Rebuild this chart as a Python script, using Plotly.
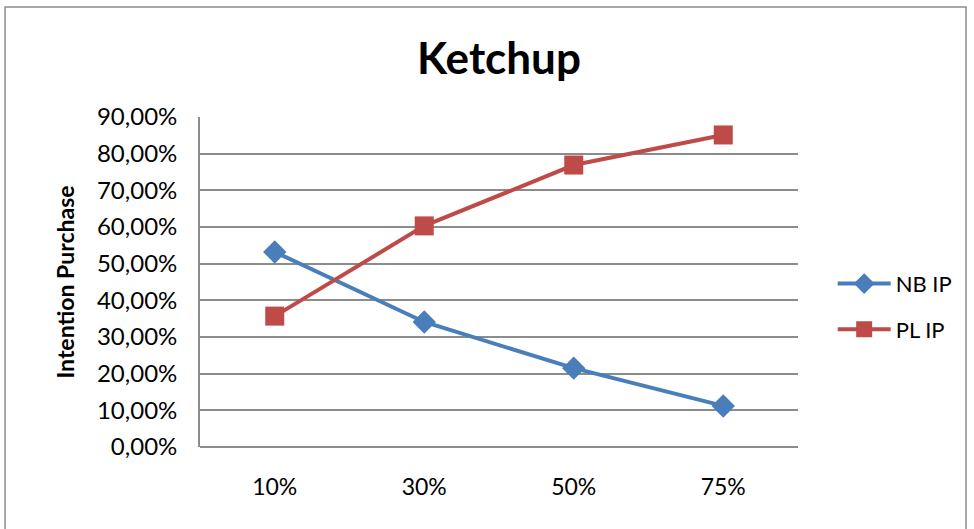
import plotly.graph_objects as go

categories = ["10%", "30%", "50%", "75%"]
nb_ip = [0.532, 0.341, 0.215, 0.112]
pl_ip = [0.357, 0.603, 0.769, 0.851]
series_names = ["NB IP", "PL IP"]

FONT = "Lato"
GRID = "#8c8c8c"

fig = go.Figure()
fig.add_trace(go.Scatter(
    x=categories, y=nb_ip, name=series_names[0], mode="lines+markers",
    line=dict(color="#4A7EBB", width=4),
    marker=dict(symbol="diamond", size=18, color="#4A7EBB"),
    legendgroup="a",
))
fig.add_trace(go.Scatter(
    x=categories, y=pl_ip, name=series_names[1], mode="lines+markers",
    line=dict(color="#BE4B48", width=4),
    marker=dict(symbol="square", size=19, color="#BE4B48"),
    legendgroup="b",
))

fig.update_layout(
    width=974, height=529,
    margin=dict(l=200, r=176, t=117, b=82),
    paper_bgcolor="white", plot_bgcolor="white",
    separators=",.",
    font=dict(family=FONT, color="#000000"),
    title=dict(text="<b>Ketchup</b>", x=0.5, xref="paper", xanchor="center", y=0.89,
               yanchor="middle", font=dict(family=FONT, size=44, color="#000000")),
    xaxis=dict(type="category", range=[-0.5, 3.5], showgrid=False, showline=False,
               ticks="", tickfont=dict(family=FONT, size=23), zeroline=False,
               ticklabelstandoff=24),
    yaxis=dict(range=[0, 0.9], dtick=0.1, tickformat=".2%", showgrid=True,
               gridcolor=GRID, gridwidth=1.8, showline=True, linecolor=GRID,
               linewidth=1.8, ticks="",
               tickfont=dict(family=FONT, size=24), zeroline=True, zerolinecolor=GRID,
               zerolinewidth=1.8, ticklabelstandoff=16,
               title=dict(text="<b>Intention Purchase</b>", font=dict(family=FONT, size=23),
                          standoff=16)),
    showlegend=True,
    legend=dict(x=1.058, xanchor="left", y=0.425, yanchor="middle", traceorder="grouped",
                tracegroupgap=14, font=dict(family=FONT, size=22), itemwidth=53,
                bgcolor="rgba(0,0,0,0)"),
    shapes=[dict(type="rect", xref="paper", yref="paper", x0=-0.326, x1=1.281,
                 y0=-0.27, y1=1.333, line=dict(color=GRID, width=1.5))],
)

fig.write_html("out.html")
